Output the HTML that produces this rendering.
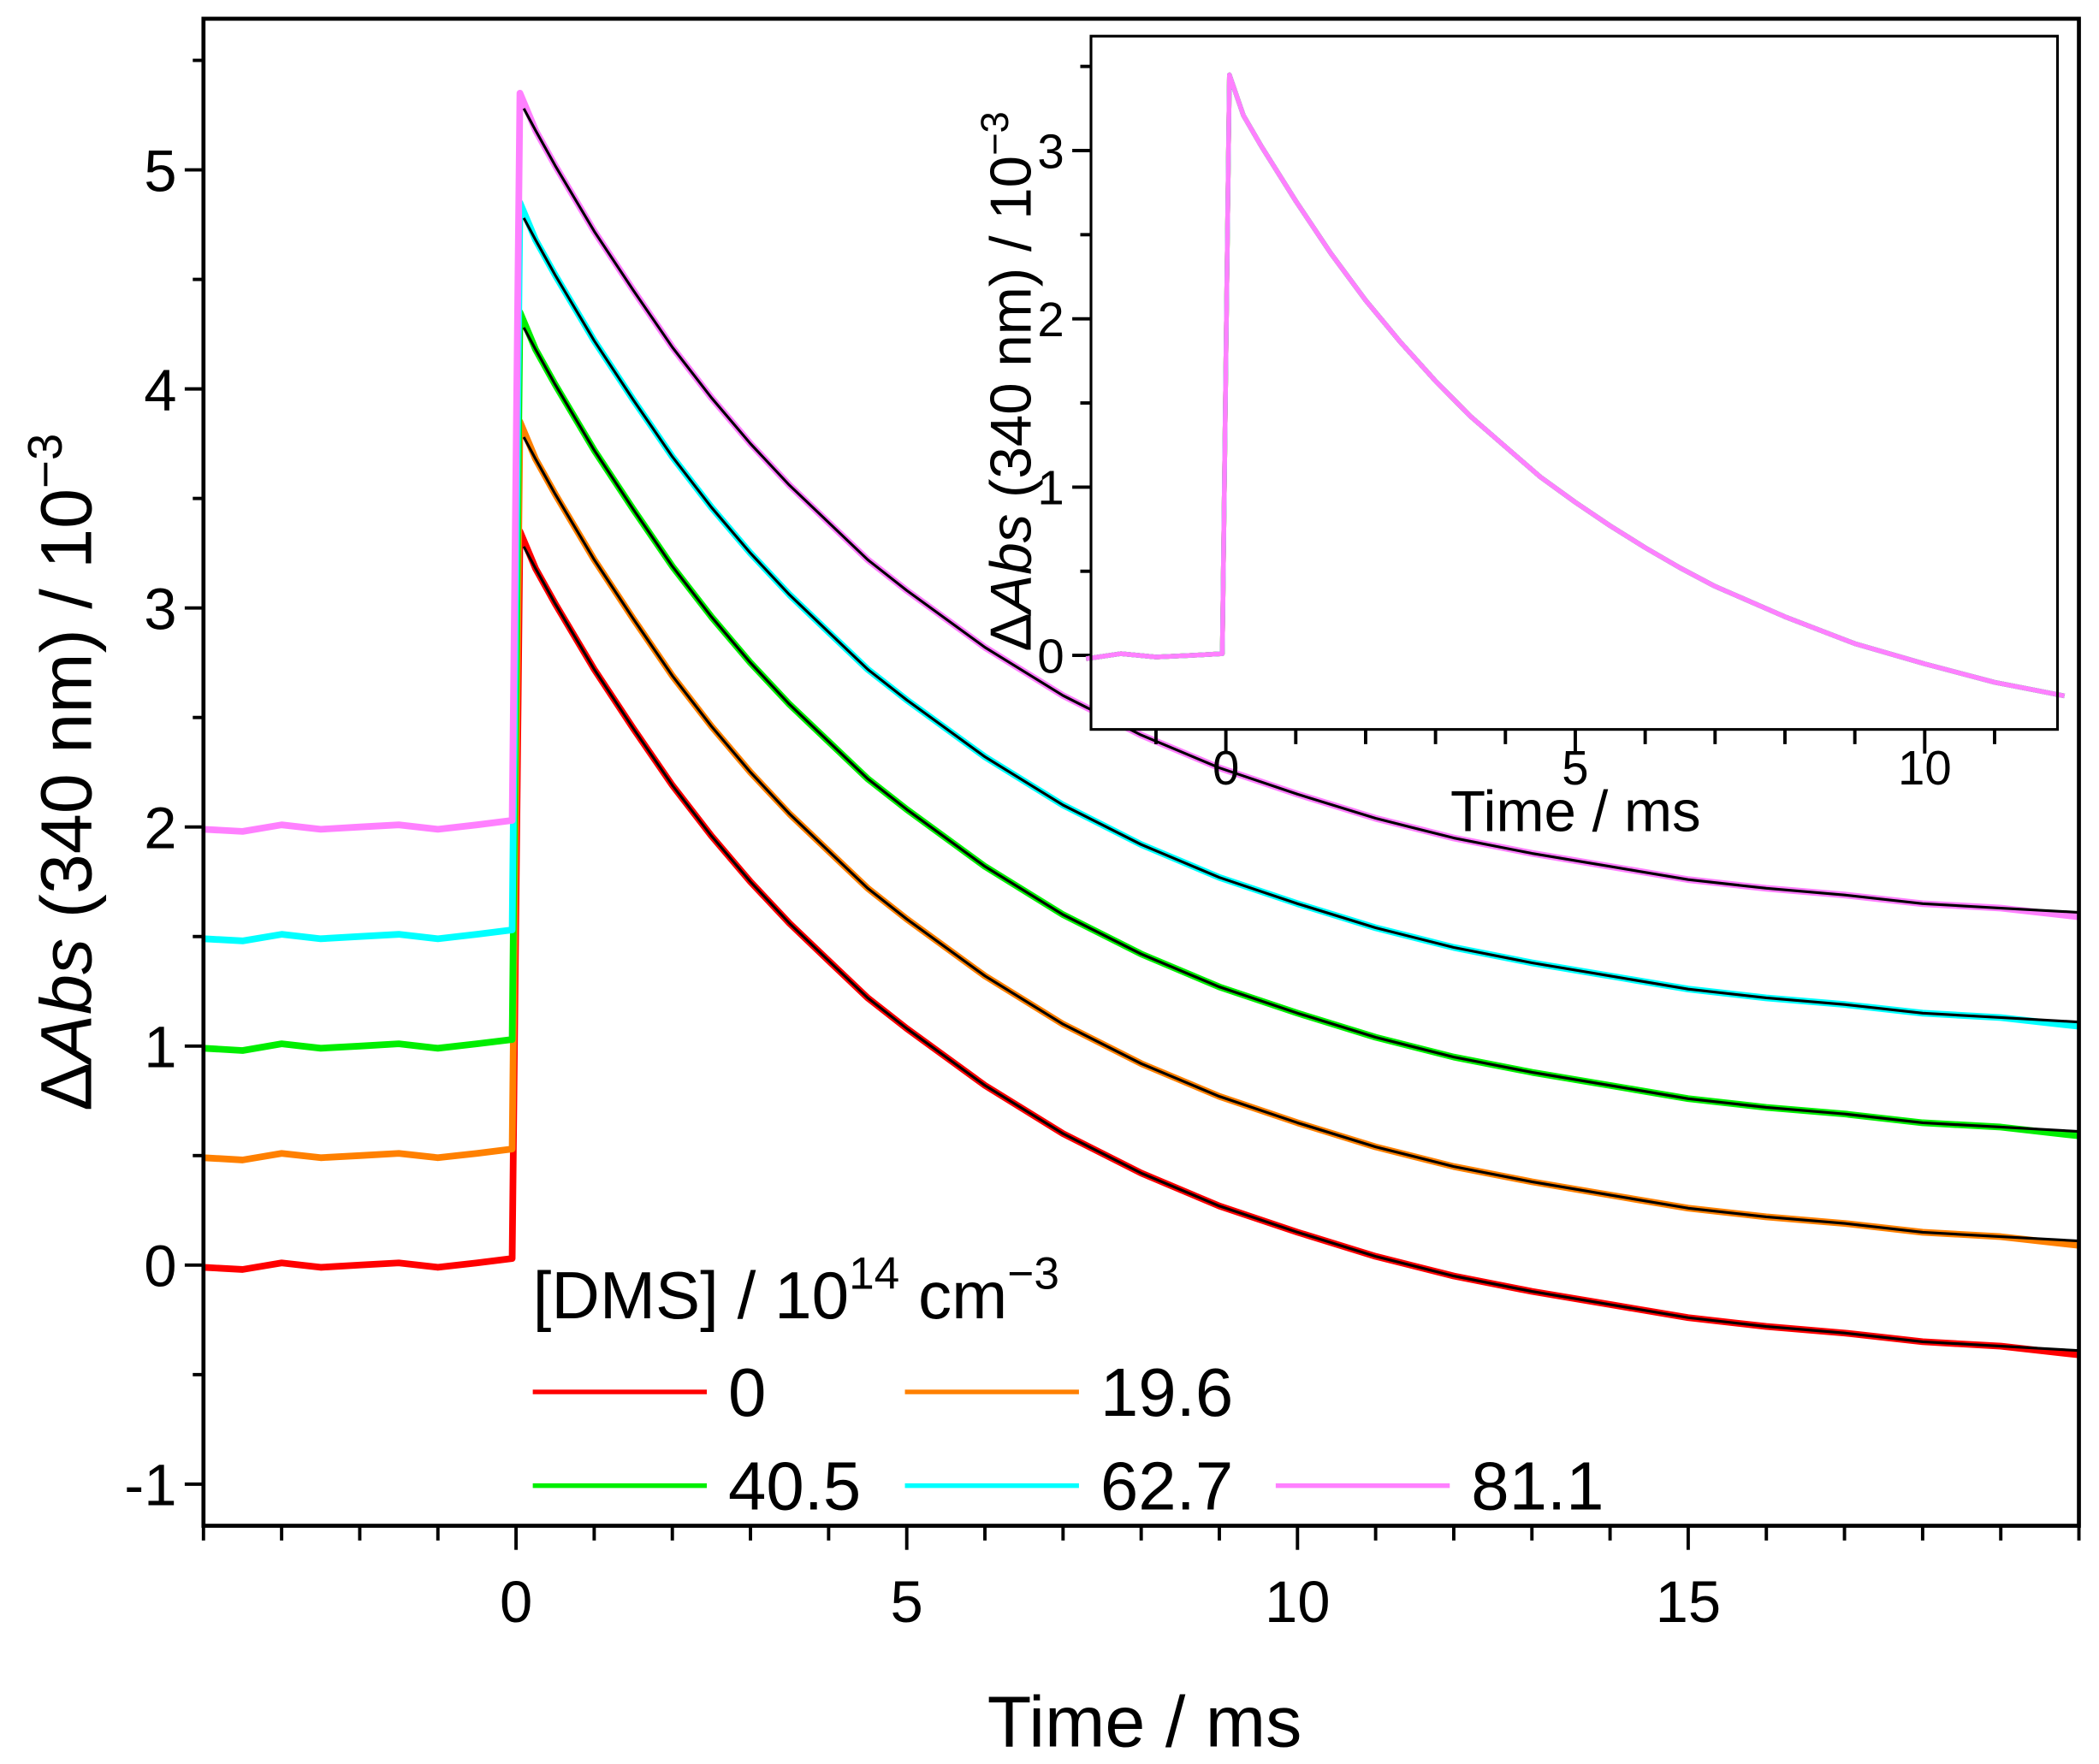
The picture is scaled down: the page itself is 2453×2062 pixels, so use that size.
<!DOCTYPE html>
<html><head><meta charset="utf-8"><style>
html,body{margin:0;padding:0;background:#fff}
svg{display:block}
text{font-family:"Liberation Sans",Arial,sans-serif;fill:#000}
</style></head><body>
<svg id="chart" width="2453" height="2062" viewBox="0 0 1568 1318" preserveAspectRatio="none" xmlns="http://www.w3.org/2000/svg">
<g id="main"></g>
<g id="inset"></g>
<text transform="translate(68,577) rotate(-90)" text-anchor="middle" font-size="54">Δ<tspan font-style="italic">Abs</tspan> (340 nm) / 10<tspan font-size="36" dy="-22">−3</tspan></text>
<text x="855" y="1305" text-anchor="middle" font-size="54">Time / ms</text>
<text transform="translate(770,285) rotate(-90)" text-anchor="middle" font-size="43">Δ<tspan font-style="italic">Abs</tspan> (340 nm) / 10<tspan font-size="29" dy="-17">−3</tspan></text>
<text x="1177" y="621" text-anchor="middle" font-size="43">Time / ms</text>
<text x="398" y="985" font-size="50">[DMS] / 10<tspan font-size="34" dy="-22">14</tspan><tspan dy="22"> cm</tspan><tspan font-size="34" dy="-22">−3</tspan></text>
<g id="legend"></g>
</svg>
<script>
const labels = ["0","19.6","40.5","62.7","81.1"];
const colors = ["#ff0000","#ff8000","#00ee00","#00ffff","#ff80ff"];
const offsets = [0,0.5,1,1.5,2];
const times = [-4,-3.5,-3,-2.5,-2,-1.5,-1,-0.5,-0.05,0.05,0.25,0.5,1,1.5,2,2.5,3,3.5,4,4.5,5,6,7,8,9,10,11,12,13,14,15,16,17,18,19,20];
const redTrace = [-0.01,-0.02,0.01,-0.01,0,0.01,-0.01,0.01,0.03,3.35,3.18,3.02,2.72,2.45,2.19,1.96,1.75,1.56,1.39,1.22,1.08,0.82,0.60,0.42,0.27,0.15,0.04,-0.05,-0.12,-0.18,-0.24,-0.28,-0.31,-0.35,-0.37,-0.41];
const fitTimes = [0.1,0.25,0.5,1,1.5,2,2.5,3,3.5,4,4.5,5,6,7,8,9,10,11,12,13,14,15,16,17,18,19,20];
const fitRed = [3.28,3.18,3.02,2.72,2.45,2.19,1.96,1.75,1.56,1.39,1.22,1.08,0.82,0.60,0.42,0.27,0.15,0.04,-0.05,-0.12,-0.18,-0.24,-0.28,-0.31,-0.35,-0.37,-0.39];
const insetTimes = [-2,-1.5,-1,-0.5,-0.05,0.05,0.25,0.5,1,1.5,2,2.5,3,3.5,4,4.5,5,5.5,6,6.5,7,7.5,8,9,10,11,12];
const insetTrace = [-0.02,0.01,-0.01,0,0.01,3.45,3.21,3.03,2.70,2.39,2.11,1.86,1.63,1.42,1.24,1.06,0.91,0.77,0.64,0.52,0.41,0.32,0.23,0.07,-0.05,-0.16,-0.24];
const mainXTicks = [0,5,10,15];
const mainYTicks = [-1,0,1,2,3,4,5];
const insetXTicks = [0,5,10];
const insetYTicks = [0,1,2,3];

const NS="http://www.w3.org/2000/svg";
function mk(parent,tag,attrs){const e=document.createElementNS(NS,tag);for(const k in attrs)e.setAttribute(k,attrs[k]);parent.appendChild(e);return e;}

function axes(g,box,xr,yr,xt,yt,fs,prefix,lblOff){
  const X=v=>box.l+(v-xr[0])/(xr[1]-xr[0])*(box.r-box.l);
  const Y=v=>box.b-(v-yr[0])/(yr[1]-yr[0])*(box.b-box.t);
  for(let v=Math.ceil(xr[0]);v<=xr[1];v++){
    const major=xt.includes(v);
    const t=mk(g,'line',{x1:X(v),x2:X(v),y1:box.b,y2:box.b+(major?18:11),stroke:'#000','stroke-width':2.5});
    
    
  }
  xt.forEach(v=>{const t=mk(g,'text',{x:X(v),y:box.b+lblOff,'text-anchor':'middle','font-size':fs});t.textContent=v;
    
    });
  for(let v=Math.ceil(yr[0]*2)/2;v<=yr[1];v+=0.5){
    const major=Math.abs(v-Math.round(v))<1e-6;
    const t=mk(g,'line',{x1:box.l-(major?14:8),x2:box.l,y1:Y(v),y2:Y(v),stroke:'#000','stroke-width':2.5});
    
    
  }
  yt.forEach(v=>{const t=mk(g,'text',{x:box.l-20,y:Y(v)+fs*0.36,'text-anchor':'end','font-size':fs});t.textContent=v;
    
    });
  return {X,Y};
}
function path(g,xs,ys,X,Y,off,color,w){
  let d='';xs.forEach((x,i)=>{d+=(i?'L':'M')+X(x).toFixed(1)+','+Y(ys[i]+off).toFixed(1);});
  return mk(g,'path',{d,fill:'none',stroke:color,'stroke-width':w,'stroke-linejoin':'round'});
}

// main
const mg=document.getElementById('main');
const mbox={l:152,r:1553,t:14,b:1140};
const m=axes(mg,mbox,[-4,20],[-1.19,5.69],mainXTicks,mainYTicks,44,'',72);
labels.forEach((lab,i)=>{
  const p=path(mg,times,redTrace,m.X,m.Y,offsets[i],colors[i],5);
  
  
});
labels.forEach((lab,i)=>{
  const f=path(mg,fitTimes,fitRed,m.X,m.Y,offsets[i],'#000',2);
  
  
});
const fr=mk(mg,'rect',{x:mbox.l,y:mbox.t,width:mbox.r-mbox.l,height:mbox.b-mbox.t,fill:'none',stroke:'#000','stroke-width':3});



// inset
const ig=document.getElementById('inset');
const ibox={l:815,r:1537,t:27,b:545};
mk(ig,'rect',{x:ibox.l,y:ibox.t,width:ibox.r-ibox.l,height:ibox.b-ibox.t,fill:'#fff',stroke:'none'});
const n=axes(ig,ibox,[-1.93,11.9],[-0.44,3.68],insetXTicks,insetYTicks,36,'inset-',41);
labels.forEach((lab,i)=>{
  const p=path(ig,insetTimes,insetTrace,n.X,n.Y,0,colors[i],3.5);
  
  
});
const ifr=mk(ig,'rect',{x:ibox.l,y:ibox.t,width:ibox.r-ibox.l,height:ibox.b-ibox.t,fill:'none',stroke:'#000','stroke-width':2});



// legend
const lg=document.getElementById('legend');
const lpos=[[398,1040],[676,1040],[398,1110],[676,1110],[953,1110]];
labels.forEach((lab,i)=>{
  const [x,y]=lpos[i];
  const l=mk(lg,'line',{x1:x,x2:x+130,y1:y,y2:y,stroke:colors[i],'stroke-width':3.5});
  
  
  const t=mk(lg,'text',{x:x+146,y:y+18,'font-size':51});
  t.textContent=lab;
  
  
});
</script>
</body></html>
